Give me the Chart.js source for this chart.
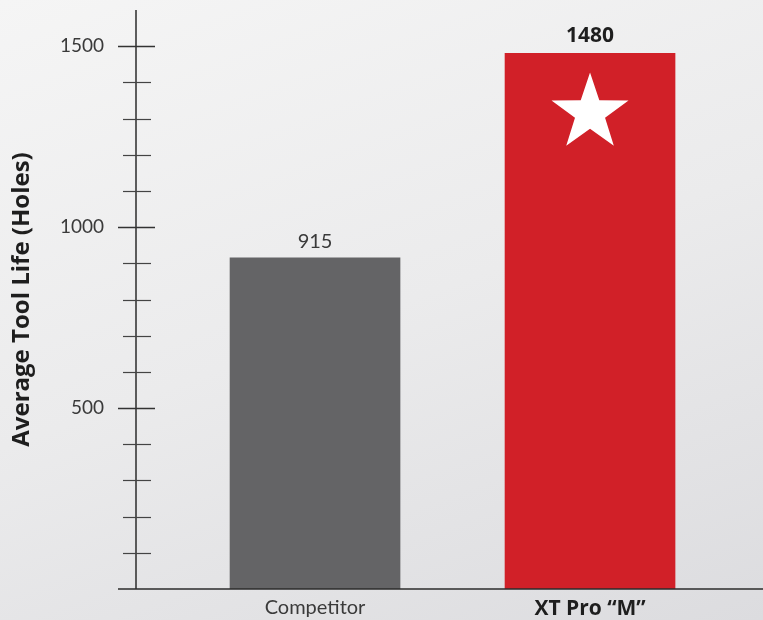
<!DOCTYPE html>
<html>
<head>
<meta charset="utf-8">
<script src="https://cdn.jsdelivr.net/npm/chart.js@4.4.1/dist/chart.umd.min.js"></script>
<style>
  html, body { margin: 0; padding: 0; }
  body {
    width: 763px; height: 620px; overflow: hidden;
    background: linear-gradient(160deg, #f5f5f5 0%, #ebebec 50%, #dcdcdf 100%);
  }
  #wrap { position: relative; width: 763px; height: 620px; }
</style>
</head>
<body>
<div id="wrap"><canvas id="chart-canvas" width="763" height="620"></canvas></div>
<script>
// chart data
var categories = ["Competitor", "XT Pro \u201cM\u201d"];
var toolLife = [915, 1480];
var barColors = ["#646466", "#d12028"];
var yTickLabels = [500, 1000, 1500];

var regularFont = 'Lato, "DejaVu Sans", sans-serif';
var boldFont = '"Open Sans", "DejaVu Sans", sans-serif';

// draws the axis lines with crossing tick marks, the value labels and the star
var decorations = {
  id: 'decorations',
  afterDatasetsDraw: function (chart) {
    var ctx = chart.ctx;
    var y = chart.scales.y;
    var area = chart.chartArea;
    var ax = area.left;

    ctx.save();
    ctx.strokeStyle = '#2b2b2b';
    ctx.lineWidth = 1.5;

    // y axis line
    ctx.beginPath();
    ctx.moveTo(ax, area.top);
    ctx.lineTo(ax, area.bottom);
    ctx.stroke();

    // x axis line
    ctx.beginPath();
    ctx.moveTo(ax - 18, area.bottom);
    ctx.lineTo(chart.width, area.bottom);
    ctx.stroke();

    // tick marks every 100
    for (var v = 100; v <= 1500; v += 100) {
      var py = Math.round(y.getPixelForValue(v)) + 0.5;
      var major = yTickLabels.indexOf(v) >= 0;
      ctx.beginPath();
      if (major) {
        ctx.lineWidth = 1.6;
        ctx.strokeStyle = '#333';
        ctx.moveTo(ax - 18, py);
        ctx.lineTo(ax + 19, py);
      } else {
        ctx.lineWidth = 1.2;
        ctx.strokeStyle = '#444';
        ctx.moveTo(ax - 13, py);
        ctx.lineTo(ax + 15, py);
      }
      ctx.stroke();
    }

    // value labels above the bars
    var meta = chart.getDatasetMeta(0);
    meta.data.forEach(function (bar, i) {
      ctx.textAlign = 'center';
      ctx.textBaseline = 'alphabetic';
      if (i === 1) {
        ctx.fillStyle = '#1e1e1e';
        ctx.font = 'bold 21px ' + boldFont;
        ctx.fillText(String(toolLife[i]), bar.x, bar.y - 11);
      } else {
        ctx.fillStyle = '#3a3a3a';
        ctx.font = '20px ' + regularFont;
        ctx.fillText(String(toolLife[i]), bar.x, bar.y - 10);
      }
    });

    // white star on the winning bar
    var best = meta.data[1];
    var cx = best.x, cy = best.y + 59.5, R = 40.5, r = 15.8;
    ctx.fillStyle = '#ffffff';
    ctx.beginPath();
    for (var k = 0; k < 10; k++) {
      var ang = -Math.PI / 2 + k * Math.PI / 5;
      var rad = k % 2 === 0 ? R : r;
      var px = cx + rad * Math.cos(ang);
      var pyy = cy + rad * Math.sin(ang);
      if (k === 0) ctx.moveTo(px, pyy); else ctx.lineTo(px, pyy);
    }
    ctx.closePath();
    ctx.fill();
    ctx.restore();
  }
};

var ctx = document.getElementById("chart-canvas");

var chartCanvas = new Chart(ctx, {
  type: 'bar',
  data: {
    datasets: [{
      data: toolLife.map(function (v, i) { return { x: i, y: v }; }),
      backgroundColor: barColors,
      borderWidth: 0,
      barThickness: 170
    }]
  },
  options: {
    responsive: false,
    animation: false,
    devicePixelRatio: 1,
    layout: { padding: { top: 10, right: 0, left: 0, bottom: 0 } },
    plugins: {
      legend: { display: false },
      tooltip: { enabled: false }
    },
    scales: {
      x: {
        type: 'linear',
        offset: false,
        min: -0.651,
        max: 1.629,
        grid: { display: false, drawTicks: false },
        border: { display: false },
        afterBuildTicks: function (scale) {
          scale.ticks = categories.map(function (c, i) { return { value: i }; });
        },
        afterFit: function (scale) { scale.height = 31; },
        ticks: {
          padding: 7,
          autoSkip: false,
          maxRotation: 0,
          callback: function (value) { return categories[value]; },
          color: function (c) { return c.tick && c.tick.value === 1 ? '#1e1e1e' : '#3a3a3a'; },
          font: function (c) {
            if (c.tick && c.tick.value === 1) {
              return { family: boldFont, size: 21, weight: 'bold' };
            }
            return { family: regularFont, size: 20, weight: 'normal' };
          }
        }
      },
      y: {
        min: 0,
        max: 1600,
        grid: { display: false, drawTicks: true, tickLength: 32 },
        border: { display: false },
        afterFit: function (scale) { scale.width = 136; },
        ticks: {
          stepSize: 100,
          padding: 0,
          color: '#3a3a3a',
          font: { family: regularFont, size: 19, weight: 'normal', lineHeight: 1 },
          callback: function (value) {
            return yTickLabels.indexOf(value) >= 0 ? String(value) : '';
          }
        },
        title: {
          display: true,
          text: 'Average Tool Life (Holes)',
          color: '#1e1e1e',
          padding: { top: 8, bottom: 0 },
          font: { family: boldFont, size: 24, weight: 'bold' }
        }
      }
    }
  },
  plugins: [decorations]
});
</script>
</body>
</html>
